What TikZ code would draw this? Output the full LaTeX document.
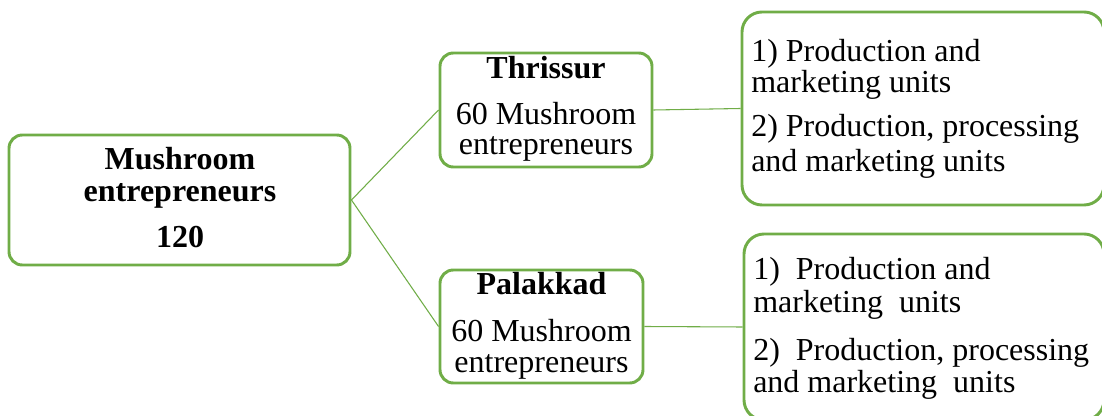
\documentclass[tikz,border=0pt]{standalone}
\usepackage{fontspec}
\setmainfont{Liberation Serif}
\definecolor{boxgreen}{RGB}{112,173,71}
\begin{document}
\begin{tikzpicture}[x=0.75pt,y=-0.75pt,
  box/.style={draw=boxgreen,line width=2.2pt,rounded corners=10pt,fill=white,inner sep=0pt},
  link/.style={draw=boxgreen,line width=0.8pt},
  txt/.style={inner sep=0pt,font=\fontsize{24}{24}\selectfont},
  ctr/.style={txt,anchor=base},
  lft/.style={txt,anchor=base west}]
\clip (0,0) rectangle (1102,416);
\fill[white] (0,0) rectangle (1102,416);

% boxes
\node[box,minimum width=341*0.75pt,minimum height=130*0.75pt] (root) at (179.5,200) {};
\node[box,minimum width=212*0.75pt,minimum height=114*0.75pt] (thr) at (546,110) {};
\node[box,minimum width=203*0.75pt,minimum height=113*0.75pt] (pal) at (541.5,326.5) {};
\node[box,rounded corners=15pt,minimum width=362*0.75pt,minimum height=193*0.75pt] (thrunits) at (923,108.5) {};
\node[box,rounded corners=15pt,minimum width=360*0.75pt,minimum height=186*0.75pt] (palunits) at (924,327) {};

% connectors
\draw[link] (root.east) -- (thr.west);
\draw[link] (root.east) -- (pal.west);
\draw[link] (thr.east) -- (thrunits.west);
\draw[link] (pal.east) -- (palunits.west);

% root text
\node[ctr] (r1) at (180,170) {\bfseries Mushroom};
\node[ctr] (r2) at (180,202) {\bfseries entrepreneurs};
\node[ctr] (r3) at (180,248) {\bfseries 120};

% Thrissur text
\node[ctr] (t1) at (546,79) {\bfseries Thrissur};
\node[ctr] (t2) at (546,125) {60 Mushroom};
\node[ctr] (t3) at (546,155) {entrepreneurs};

% Palakkad text
\node[ctr] (p1) at (541.5,295) {\bfseries Palakkad};
\node[ctr] (p2) at (541.5,342) {60 Mushroom};
\node[ctr] (p3) at (541.5,372) {entrepreneurs};

% unit types, Thrissur
\node[lft] (tu1) at (751,62) {1) Production and};
\node[lft] (tu2) at (751,93) {marketing units};
\node[lft] (tu3) at (751,137) {2) Production, processing};
\node[lft] (tu4) at (751,172) {and marketing units};

% unit types, Palakkad
\node[lft] (pu1) at (753,280) {1)\ \ Production and};
\node[lft] (pu2) at (753,313) {marketing\ \ units};
\node[lft] (pu3) at (753,360) {2)\ \ Production, processing};
\node[lft] (pu4) at (753,392) {and marketing\ \ units};
\end{tikzpicture}
\end{document}
